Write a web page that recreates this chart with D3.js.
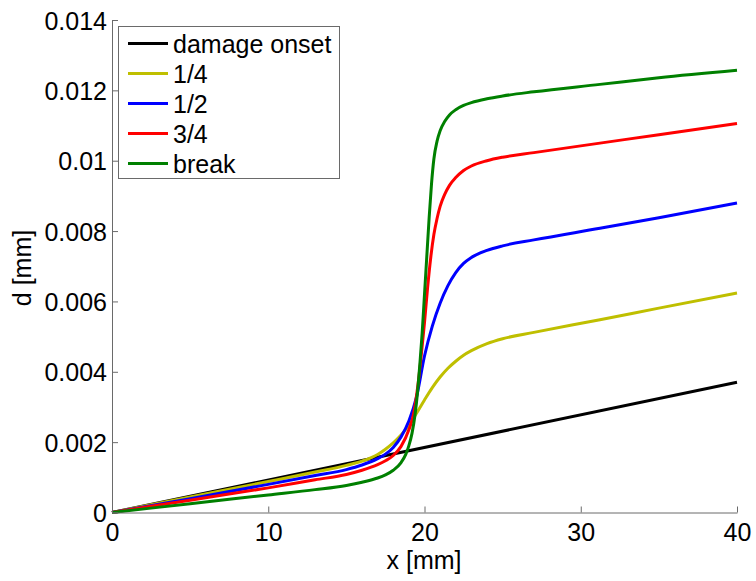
<!DOCTYPE html>
<html>
<head>
<meta charset="utf-8">
<script src="https://cdn.jsdelivr.net/npm/d3@7"></script>
<style>
  html, body { margin: 0; padding: 0; background: #fff; }
  svg { display: block; }
  text { font-family: "Liberation Sans", Arial, sans-serif; fill: #000; }
</style>
</head>
<body>
<svg id="chart" width="756" height="581"></svg>
<script>
// Displacement profiles d(x) at successive damage stages, [x in mm, d in mm]
const onset = [[0, 0], [40, 0.0037]];
const quarter = [
  [0, 0], [5, 0.00044], [10, 0.00088], [13, 0.00115], [15, 0.00134], [16, 0.00146],
  [17, 0.00165], [17.5, 0.0018], [18, 0.00198], [18.5, 0.0022], [19, 0.00248],
  [19.5, 0.00283], [20, 0.0032], [20.5, 0.00355], [21, 0.00385], [21.5, 0.0041],
  [22, 0.0043], [22.5, 0.00447], [23, 0.0046], [24, 0.0048], [25, 0.00494],
  [27, 0.00512], [31.23, 0.00548], [35, 0.00581], [40, 0.00624]
];
const half = [
  [0, 0], [5, 0.00039], [10, 0.0008], [13, 0.00105], [15, 0.00122], [16, 0.00135],
  [17, 0.00153], [17.5, 0.00166], [18, 0.00185], [18.5, 0.00215], [19, 0.0026],
  [19.5, 0.0033], [20, 0.00445], [20.5, 0.0053], [21, 0.00595], [21.5, 0.00645],
  [22, 0.00682], [22.5, 0.00708], [23, 0.00725], [24, 0.00745], [25, 0.00758],
  [27, 0.00775], [31.23, 0.00808], [35, 0.00838], [40, 0.0088]
];
const threeQuarter = [
  [0, 0], [5, 0.00035], [10, 0.0007], [13, 0.00093], [15, 0.00108], [16, 0.0012],
  [17, 0.00136], [17.5, 0.00147], [18, 0.00162], [18.5, 0.00188], [19, 0.00235],
  [19.3, 0.0028], [19.6, 0.0037], [19.8, 0.0045], [20, 0.0054], [20.2, 0.0064],
  [20.4, 0.00725], [20.6, 0.0079], [20.8, 0.00835], [21, 0.0087], [21.3, 0.00905],
  [21.6, 0.0093], [22, 0.00952], [22.5, 0.00972], [23, 0.00985], [24, 0.01],
  [25, 0.0101], [27, 0.01023], [31.23, 0.0105], [35, 0.01074], [40, 0.01106]
];
const breakCurve = [
  [0, 0], [5, 0.00025], [10, 0.0005], [13, 0.00065], [15, 0.00077], [16, 0.00086],
  [17, 0.00098], [17.5, 0.00107], [18, 0.0012], [18.5, 0.00142], [18.8, 0.00165],
  [19, 0.0019], [19.2, 0.00225], [19.4, 0.0028], [19.55, 0.0034], [19.7, 0.0042],
  [19.85, 0.0051], [20, 0.0062], [20.15, 0.0073], [20.3, 0.0084], [20.45, 0.00935],
  [20.6, 0.01005], [20.8, 0.01055], [21, 0.01085], [21.3, 0.01112], [21.6, 0.0113],
  [22, 0.01145], [22.5, 0.01157], [23, 0.01165], [24, 0.01176], [25, 0.01184],
  [27, 0.01196], [31.23, 0.01217], [35, 0.01236], [40, 0.01257]
];

const seriesNames = ["damage onset", "1/4", "1/2", "3/4", "break"];
const seriesColors = ["#000000", "#bfbf00", "#0000ff", "#ff0000", "#008000"];
const seriesData = [onset, quarter, half, threeQuarter, breakCurve];

const xTicks = [0, 10, 20, 30, 40];
const yTicks = [0, 0.002, 0.004, 0.006, 0.008, 0.01, 0.012, 0.014];
const xTitle = "x [mm]";
const yTitle = "d [mm]";

const svg = d3.select("#chart");
const plot = { left: 112, right: 737, top: 20, bottom: 512.5 };
const axisColor = "#6a6a6a";
const fontSize = 25;

const x = d3.scaleLinear().domain([0, 40]).range([plot.left, plot.right]);
const y = d3.scaleLinear().domain([0, 0.014]).range([plot.bottom, plot.top]);

svg.append("rect").attr("width", 756).attr("height", 581).attr("fill", "#fff");

// Curves
const line = d3.line()
  .x(d => x(d[0]))
  .y(d => y(d[1]))
  .curve(d3.curveMonotoneX);

seriesData.forEach((data, i) => {
  svg.append("path")
    .datum(data)
    .attr("d", line)
    .attr("fill", "none")
    .attr("stroke", seriesColors[i])
    .attr("stroke-width", 3)
    .attr("stroke-linejoin", "round")
    .attr("stroke-linecap", "butt");
});

// Axes with inward ticks
const fmt = v => String(+v.toFixed(3));

const xAxis = svg.append("g")
  .attr("transform", `translate(0,${plot.bottom})`)
  .call(d3.axisBottom(x).tickValues(xTicks).tickSizeInner(-6).tickSizeOuter(0).tickPadding(11).tickFormat(fmt));
const yAxis = svg.append("g")
  .attr("transform", `translate(${plot.left},0)`)
  .call(d3.axisLeft(y).tickValues(yTicks).tickSizeInner(-6).tickSizeOuter(0).tickPadding(5).tickFormat(fmt));

[xAxis, yAxis].forEach(g => {
  g.select(".domain").attr("stroke", axisColor).attr("stroke-width", 1);
  g.selectAll(".tick line").attr("stroke", axisColor).attr("stroke-width", 1);
  g.selectAll(".tick text")
    .attr("font-size", fontSize)
    .attr("font-family", "'Liberation Sans', Arial, sans-serif")
    .attr("fill", "#000");
});
xAxis.selectAll(".tick text").attr("dy", "0.71em");
yAxis.selectAll(".tick text").attr("dy", "0.36em");

// Axis titles
svg.append("text")
  .attr("x", 424).attr("y", 569)
  .attr("text-anchor", "middle")
  .attr("font-size", fontSize)
  .text(xTitle);

svg.append("text")
  .attr("transform", "translate(31,268) rotate(-90)")
  .attr("text-anchor", "middle")
  .attr("font-size", fontSize)
  .text(yTitle);

// Legend
const legend = svg.append("g");
legend.append("rect")
  .attr("x", 118.5).attr("y", 26.5)
  .attr("width", 221).attr("height", 152)
  .attr("fill", "#fff")
  .attr("stroke", axisColor)
  .attr("stroke-width", 1);

seriesNames.forEach((name, i) => {
  const cy = 43.5 + i * 30;
  legend.append("line")
    .attr("x1", 128).attr("x2", 168)
    .attr("y1", cy).attr("y2", cy)
    .attr("stroke", seriesColors[i])
    .attr("stroke-width", 3);
  legend.append("text")
    .attr("x", 173).attr("y", cy)
    .attr("dy", "0.36em")
    .attr("font-size", fontSize)
    .text(name);
});
</script>
</body>
</html>
